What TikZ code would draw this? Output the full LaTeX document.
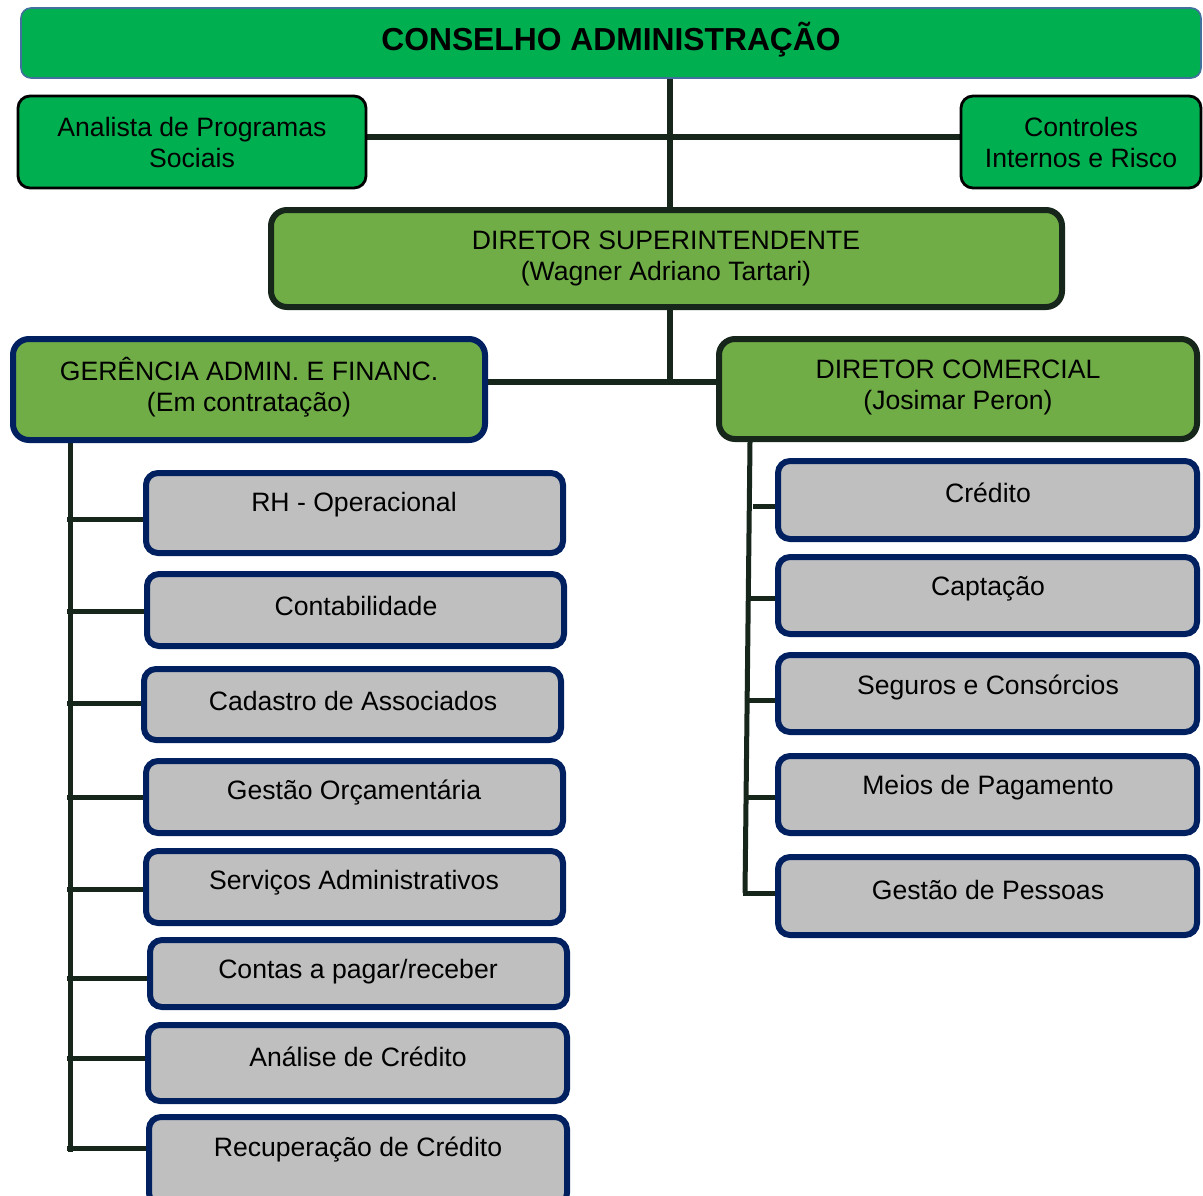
\documentclass[tikz,border=0pt]{standalone}
\usepackage{fontspec}
\setmainfont{Liberation Sans}
\usetikzlibrary{backgrounds}
\definecolor{gA}{HTML}{00B050}
\definecolor{gB}{HTML}{70AD47}
\definecolor{nv}{HTML}{002060}
\definecolor{dk}{HTML}{17261A}
\definecolor{gr}{HTML}{BFBFBF}
\definecolor{bl}{HTML}{41719C}
\newcommand\pbox[6]{%
  \node[#2, minimum width={(#5-#3)*0.5pt}, minimum height={(#6-#4)*0.5pt}] (#1) at ({(#3+#5)/2},{(#4+#6)/2}) {};}
\tikzset{
  topbox/.style={draw=bl, line width=0.8pt, fill=gA, rounded corners=5pt, inner sep=0pt},
  sidebox/.style={draw=black, line width=1.4pt, fill=gA, rounded corners=6pt, inner sep=0pt},
  supbox/.style={draw=dk, line width=3pt, fill=gB, rounded corners=8pt, inner sep=0pt},
  gerbox/.style={draw=nv, line width=3pt, fill=gB, rounded corners=8pt, inner sep=0pt},
  dirbox/.style={draw=dk, line width=3pt, fill=gB, rounded corners=8pt, inner sep=0pt},
  graybox/.style={draw=nv, line width=3pt, fill=gr, rounded corners=6pt, inner sep=0pt},
  lbl/.style={font=\fontsize{13.3pt}{15.5pt}\selectfont, align=center, inner sep=0pt},
  conn/.style={draw=dk, line width=2.7pt},
  thin/.style={draw=dk, line width=2.5pt}
}
\begin{document}
\begin{tikzpicture}[x=0.5pt,y=-0.5pt]
\useasboundingbox (0,0) rectangle (1203,1195);
\coordinate (jt) at (670,78);
\coordinate (j1) at (670,137);
\coordinate (j2) at (670,382);
\coordinate (ltop) at (70,442);
\coordinate (lbot) at (70,1152);
\coordinate (rtop) at (750,446);
\coordinate (rbot) at (745,893);
% boxes
\pbox{cons}{topbox}{21}{8}{1201}{78}
\pbox{ana}{sidebox}{18}{96}{366}{188}
\pbox{ctrl}{sidebox}{961}{96}{1201}{188}
\pbox{sup}{supbox}{271}{210}{1062}{307}
\pbox{ger}{gerbox}{13}{339}{485}{440}
\pbox{dir}{dirbox}{719}{339}{1197}{439}
\pbox{rh}{graybox}{146}{473}{563}{553}
\pbox{cont}{graybox}{147}{574}{564}{646}
\pbox{cad}{graybox}{144}{669}{561}{740}
\pbox{orc}{graybox}{146}{761}{563}{833}
\pbox{serv}{graybox}{146}{851}{563}{923}
\pbox{contas}{graybox}{150}{940}{567}{1007}
\pbox{anal}{graybox}{148}{1025}{567}{1101}
\pbox{rec}{graybox}{149}{1117}{567}{1205}
\pbox{cred}{graybox}{778}{461}{1197}{539}
\pbox{capt}{graybox}{778}{557}{1197}{634}
\pbox{seg}{graybox}{778}{655}{1197}{732}
\pbox{meios}{graybox}{778}{756}{1197}{833}
\pbox{pess}{graybox}{778}{857}{1197}{935}
% connectors
\begin{scope}[on background layer]
\draw[conn] (cons.south -| jt) -- (sup.north -| jt);
\draw[conn] (ana.east |- j1) -- (ctrl.west |- j1);
\draw[conn] (sup.south -| j2) -- (j2);
\draw[conn] (ger.east |- j2) -- (dir.west |- j2);
\draw[thin] (ger.south -| ltop) -- (lbot);
\foreach \n/\yy in {rh/519, cont/611, cad/703, orc/797, serv/889, contas/978, anal/1058, rec/1148}{
  \draw[thin] (67,\yy) -- (\n.west |- {(0,\yy)});
}
\draw[thin] (dir.south -| rtop) -- (rbot);
\foreach \n/\yy/\xx in {cred/506/753, capt/598/751, seg/700/749, meios/797/748, pess/893/743}{
  \draw[thin] (\xx,\yy) -- (\n.west |- {(0,\yy)});
}
\end{scope}
% texts
\node[lbl, font=\bfseries\fontsize{15.9pt}{18pt}\selectfont] (t-cons) at (611,40) {CONSELHO ADMINISTRAÇÃO};
\node[lbl] (t-ana) at (192,142) {Analista de Programas\\Sociais};
\node[lbl] (t-ctrl) at (1081,142) {Controles\\Internos e Risco};
\node[lbl] (t-sup) at (666,258) {DIRETOR SUPERINTENDENTE\\(Wagner Adriano Tartari)};
\node[lbl] (t-ger) at (249,387) {GERÊNCIA ADMIN. E FINANC.\\(Em contratação)};
\node[lbl] (t-dir) at (958,387) {DIRETOR COMERCIAL\\(Josimar Peron)};
\node[lbl] (t-rh) at (354,505) {RH - Operacional};
\node[lbl] (t-cont) at (356,606) {Contabilidade};
\node[lbl] (t-cad) at (353,701) {Cadastro de Associados};
\node[lbl] (t-orc) at (354,793) {Gestão Orçamentária};
\node[lbl] (t-serv) at (354,883) {Serviços Administrativos};
\node[lbl] (t-contas) at (358,972) {Contas a pagar/receber};
\node[lbl] (t-anal) at (358,1057) {Análise de Crédito};
\node[lbl] (t-rec) at (358,1150) {Recuperação de Crédito};
\node[lbl] (t-cred) at (988,493) {Crédito};
\node[lbl] (t-capt) at (988,589) {Captação};
\node[lbl] (t-seg) at (988,687) {Seguros e Consórcios};
\node[lbl] (t-meios) at (988,788) {Meios de Pagamento};
\node[lbl] (t-pess) at (988,890) {Gestão de Pessoas};
\end{tikzpicture}
\end{document}
